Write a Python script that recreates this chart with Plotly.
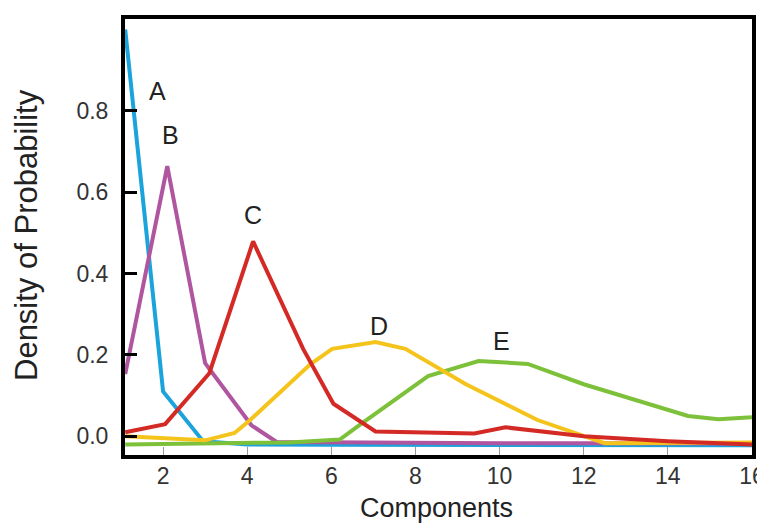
import plotly.graph_objects as go

# Data
a_x = [1.1, 2, 2.95, 4, 6, 8, 10, 12, 14, 16]
a_y = [1.0, 0.11, -0.012, -0.02, -0.021, -0.021, -0.021, -0.022, -0.022, -0.022]

b_x = [1.1, 2.1, 3.0, 4.1, 4.7, 6, 8, 10, 12, 14, 16]
b_y = [0.153, 0.664, 0.18, 0.027, -0.014, -0.015, -0.016, -0.017, -0.017, -0.018, -0.018]

c_x = [1.1, 2.05, 3.1, 4.14, 5.33, 6.05, 7.05, 9.4, 10.14, 12.0, 14, 16]
c_y = [0.01, 0.03, 0.155, 0.479, 0.215, 0.08, 0.012, 0.007, 0.022, 0.0, -0.012, -0.02]

d_x = [1.1, 2, 3.0, 3.7, 4.07, 5.5, 6.02, 7.05, 7.76, 9.2, 10.9, 12.5, 16]
d_y = [0.0, -0.005, -0.01, 0.008, 0.04, 0.177, 0.215, 0.232, 0.215, 0.128, 0.04, -0.017, -0.015]

e_x = [1.1, 3, 5, 6.2, 6.7, 8.3, 9.5, 10.67, 12.0, 14.48, 15.2, 16]
e_y = [-0.02, -0.018, -0.015, -0.008, 0.03, 0.148, 0.185, 0.178, 0.128, 0.05, 0.042, 0.047]

series = [
    ("A", a_x, a_y, "#1BA3DC"),
    ("B", b_x, b_y, "#B0559F"),
    ("E", e_x, e_y, "#7DC13A"),
    ("D", d_x, d_y, "#F5C41C"),
    ("C", c_x, c_y, "#D42A26"),
]

label_text = ["A", "B", "C", "D", "E"]
label_x = [1.86, 2.17, 4.14, 7.14, 10.05]
label_y = [0.85, 0.74, 0.543, 0.27, 0.235]

x_ticks = [2, 4, 6, 8, 10, 12, 14, 16]
y_ticks = [0.0, 0.2, 0.4, 0.6, 0.8]
y_tick_text = ["0.0", "0.2", "0.4", "0.6", "0.8"]

x_title = "Components"
y_title = "Density of Probability"

FONT = "Liberation Sans, Arial, sans-serif"

fig = go.Figure()
for name, xs, ys, col in series:
    fig.add_trace(go.Scatter(x=xs, y=ys, mode="lines", name=name,
                             line=dict(color=col, width=4), showlegend=False))

for t, lx, ly in zip(label_text, label_x, label_y):
    fig.add_annotation(x=lx, y=ly, text=t, showarrow=False,
                       font=dict(family=FONT, size=25, color="#222222"))

fig.add_annotation(xref="paper", yref="paper", x=0.4976, y=-0.1216,
                   text=x_title, showarrow=False, xanchor="center", yanchor="middle",
                   font=dict(family=FONT, size=27, color="#222222"))
fig.add_annotation(xref="paper", yref="paper", x=-0.1563, y=0.5046,
                   text=y_title, showarrow=False, textangle=-90,
                   xanchor="center", yanchor="middle",
                   font=dict(family=FONT, size=31, color="#222222"))

# page body has an 8px margin, so the figure is sized/offset to compensate
fig.update_layout(
    width=757, height=518,
    margin=dict(l=117, r=13, t=11, b=71),
    paper_bgcolor="white", plot_bgcolor="white",
    font=dict(family=FONT, color="#333333"),
)
fig.update_xaxes(
    range=[1.095, 16], tickvals=x_ticks, ticks="inside", ticklen=8, tickwidth=1,
    tickcolor="#999999", showgrid=False, zeroline=False,
    showline=True, linecolor="black", linewidth=4, mirror=True,
    tickfont=dict(size=23, color="#333333"), automargin=False,
    ticklabelstandoff=-3,
)
fig.update_yaxes(
    range=[-0.046, 1.026], tickvals=y_ticks, ticktext=y_tick_text,
    ticks="inside", ticklen=12, tickwidth=3, tickcolor="black",
    showgrid=False, zeroline=False,
    showline=True, linecolor="black", linewidth=4, mirror=True,
    tickfont=dict(size=23, color="#333333"), automargin=False,
    ticklabelstandoff=8,
)

fig.write_html("out.html")
